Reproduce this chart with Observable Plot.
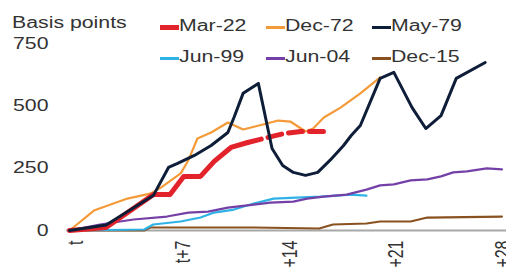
<!DOCTYPE html>
<html>
<head>
<meta charset="utf-8">
<script src="https://cdn.jsdelivr.net/npm/d3@7"></script>
<script src="https://cdn.jsdelivr.net/npm/@observablehq/plot@0.6"></script>
<style>
  html, body { margin: 0; padding: 0; background: #fff; }
  #wrap { position: relative; width: 506px; height: 267px; overflow: hidden; font-family: "Liberation Sans", Arial, sans-serif; color: #333; }
  #overlay { position: absolute; left: 0; top: 0; width: 506px; height: 267px; pointer-events: none; }
  .txt { position: absolute; font-size: 16px; line-height: 16px; white-space: nowrap; transform: scaleX(1.33); transform-origin: 0 0; }
  .sw { position: absolute; }
</style>
</head>
<body>
<div id="wrap">
  <div id="chart"></div>
  <div id="overlay"></div>
</div>
<script>
// ---- Data ----
const yTitle = "Basis points";
const yTicks = [0, 250, 500, 750];
const xTicks = [0, 7, 14, 21, 28];
const xTickLabels = ["t", "t+7", "t+14", "t+21", "t+28"];

const seriesNames = ["Mar-22", "Dec-72", "May-79", "Jun-99", "Jun-04", "Dec-15"];
const seriesColors = ["#e2232b", "#f59a38", "#0e1d38", "#2fb3e6", "#7440a8", "#8a5120"];

const mar22Days = [0, 2.4, 5.5, 6.6, 7.5, 8.6, 9.5, 10.6, 11.7, 13.0, 14.1, 15.2, 16.8];
const mar22Bps  = [0, 12, 144, 144, 217, 217, 277, 333, 353, 373, 389, 397, 397];
const mar22DashedFrom = 11.7;

const dec72Days = [0, 1.6, 3.8, 5.3, 6.0, 7.3, 7.8, 8.4, 9.3, 10.4, 11.4, 12.7, 13.7, 14.5, 15.5, 16.0, 16.7, 17.8, 19.1, 20.4];
const dec72Bps  = [0, 80, 128, 148, 172, 229, 281, 369, 393, 433, 405, 425, 441, 437, 397, 409, 453, 493, 550, 614];

const may79Days = [0, 2.4, 5.5, 6.5, 7.1, 8.2, 9.3, 10.4, 10.8, 11.4, 12.4, 13.3, 14.0, 14.7, 15.5, 16.3, 17.1, 18.0, 18.5, 19.1, 20.4, 21.3, 22.5, 23.4, 24.4, 25.4, 27.3];
const may79Bps  = [0, 22, 140, 253, 269, 301, 341, 393, 453, 550, 590, 329, 261, 233, 221, 233, 281, 341, 381, 421, 610, 634, 493, 409, 461, 610, 674];

const jun99Days = [0, 4.9, 5.5, 7.3, 8.6, 9.5, 10.8, 12.1, 13.4, 14.9, 16.5, 18.5, 19.5];
const jun99Bps  = [0, 4, 24, 36, 52, 72, 84, 108, 128, 132, 136, 144, 140];

const jun04Days = [0, 2.0, 4.2, 6.4, 7.8, 9.1, 10.4, 12.1, 13.2, 14.7, 15.6, 16.7, 18.2, 19.5, 20.4, 21.3, 22.4, 23.5, 24.4, 25.2, 26.1, 27.4, 28.4];
const jun04Bps  = [0, 24, 44, 56, 72, 76, 92, 104, 112, 116, 128, 136, 144, 164, 181, 185, 201, 205, 217, 233, 237, 249, 245];

const dec15Days = [0, 4.9, 5.3, 12.1, 16.4, 17.3, 19.5, 20.4, 22.4, 23.5, 28.4];
const dec15Bps  = [0, 0, 12, 12, 8, 24, 28, 36, 36, 52, 56];

// ---- Build table ----
const seriesDays = [mar22Days, dec72Days, may79Days, jun99Days, jun04Days, dec15Days];
const seriesBps  = [mar22Bps, dec72Bps, may79Bps, jun99Bps, jun04Bps, dec15Bps];
const seriesWidths = [5, 2.2, 3, 2.2, 2.2, 2.2];
const rows = seriesNames.map((name, i) => seriesDays[i].map((d, j) => ({name, day: d, bps: seriesBps[i][j]})));
const byName = Object.fromEntries(seriesNames.map((n, i) => [n, rows[i]]));
const colorOf = Object.fromEntries(seriesNames.map((n, i) => [n, seriesColors[i]]));
const widthOf = Object.fromEntries(seriesNames.map((n, i) => [n, seriesWidths[i]]));

const drawOrder = ["Dec-15", "Jun-99", "Jun-04", "Dec-72", "Mar-22", "May-79"];
const lineMarks = [];
for (const n of drawOrder) {
  if (n === "Mar-22") {
    lineMarks.push(Plot.line(byName[n].filter(d => d.day <= mar22DashedFrom), {x: "day", y: "bps", stroke: colorOf[n], strokeWidth: widthOf[n], strokeLinejoin: "round"}));
    lineMarks.push(Plot.line(byName[n].filter(d => d.day >= mar22DashedFrom), {x: "day", y: "bps", stroke: colorOf[n], strokeWidth: widthOf[n], strokeDasharray: "14,7"}));
  } else {
    lineMarks.push(Plot.line(byName[n], {x: "day", y: "bps", stroke: colorOf[n], strokeWidth: widthOf[n], strokeLinejoin: "round"}));
  }
}

const chart = Plot.plot({
  width: 506,
  height: 267,
  marginLeft: 66,
  marginRight: 0,
  marginTop: 43,
  marginBottom: 37,
  x: {domain: [-0.2, 28.7]},
  y: {domain: [0, 750]},
  style: {fontFamily: "'Liberation Sans', Arial, sans-serif", fontSize: "16px", color: "#333", background: "white", overflow: "visible"},
  marks: [
    Plot.axisY({ticks: yTicks, tickSize: 0, tickPadding: 18, label: null}),
    Plot.axisX({ticks: xTicks, tickFormat: d => xTickLabels[xTicks.indexOf(d)], tickRotate: -90, tickSize: 0, tickPadding: 10, label: null, dx: 7}),
    Plot.ruleY([0], {stroke: "#a8a8a8", strokeWidth: 2}),
    ...lineMarks
  ]
});
document.getElementById("chart").appendChild(chart);

// Horizontal stretch of tick-label glyphs, as in the reference
const SX = 1.33;
chart.querySelectorAll('g[aria-label="y-axis tick label"] text').forEach(t => {
  const tr = t.getAttribute("transform") || "";
  t.setAttribute("transform", tr + ` scale(${SX},1)`);
});
chart.querySelectorAll('g[aria-label="x-axis tick label"] text').forEach(t => {
  const tr = t.getAttribute("transform") || "";
  t.setAttribute("transform", tr.includes("rotate") ? tr.replace("rotate", `scale(${SX},1) rotate`) : tr + ` scale(${SX},1)`);
});

// ---- Title and legend overlay ----
const ov = document.getElementById("overlay");
const title = document.createElement("div");
title.className = "txt";
title.textContent = yTitle;
title.style.left = "12px";
title.style.top = "14.5px";
ov.appendChild(title);

const colLeft = [160, 266, 372];
const rowMid = [27.5, 58];
seriesNames.forEach((n, i) => {
  const col = i % 3, row = Math.floor(i / 3);
  const sw = document.createElement("div");
  sw.className = "sw";
  const h = n === "Mar-22" ? 5 : 3;
  sw.style.left = colLeft[col] + "px";
  sw.style.width = "19px";
  sw.style.height = h + "px";
  sw.style.top = (rowMid[row] - h / 2) + "px";
  sw.style.background = colorOf[n];
  ov.appendChild(sw);
  const tx = document.createElement("div");
  tx.className = "txt";
  tx.textContent = n;
  tx.style.left = (colLeft[col] + 19) + "px";
  tx.style.top = (rowMid[row] - 9.5) + "px";
  ov.appendChild(tx);
});
</script>
</body>
</html>
